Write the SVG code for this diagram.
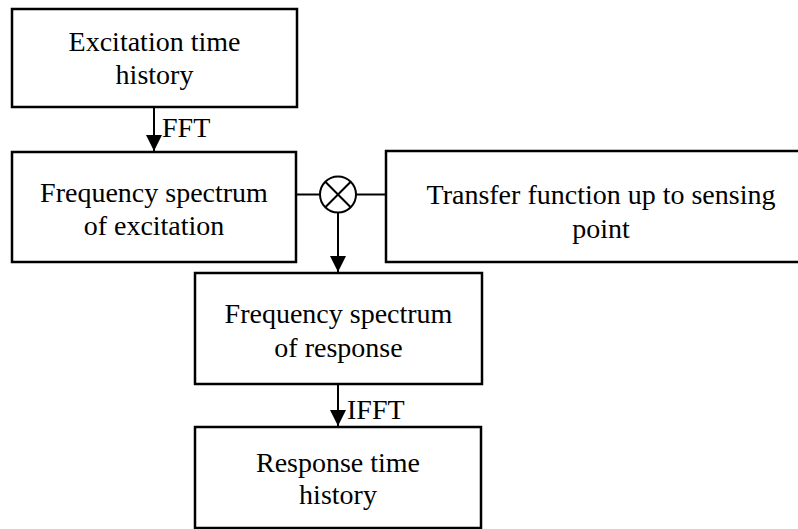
<svg xmlns="http://www.w3.org/2000/svg" width="798" height="529" viewBox="0 0 798 529">
<defs>
<marker id="ah" markerWidth="16" markerHeight="16" viewBox="0 0 16 16" refX="16" refY="8" orient="auto" markerUnits="userSpaceOnUse">
<path d="M0,0 L16,8 L0,16 Z" fill="#000"/>
</marker>
</defs>
<rect width="798" height="529" fill="#fff"/>
<g id="connectors" fill="none" stroke="#000" stroke-width="2">
<line x1="154" y1="107" x2="154" y2="151" marker-end="url(#ah)"/>
<line x1="296" y1="194.5" x2="320" y2="194.5"/>
<line x1="356" y1="194.5" x2="386" y2="194.5"/>
<line x1="338" y1="212.5" x2="338" y2="272" marker-end="url(#ah)"/>
<line x1="338" y1="384" x2="338" y2="426" marker-end="url(#ah)"/>
</g>
<g id="labels" fill="#000">
<text x="162" y="137" font-size="28" font-family="'Liberation Serif'" style="font-family:'Liberation Serif',serif">FFT</text>
<text x="347" y="419" font-size="28" font-family="'Liberation Serif'" style="font-family:'Liberation Serif',serif">IFFT</text>
</g>
<g id="mult" fill="none" stroke="#000" stroke-width="2">
<circle cx="338" cy="194.5" r="18" fill="#fff"/>
<line x1="325.3" y1="181.8" x2="350.7" y2="207.2"/>
<line x1="350.7" y1="181.8" x2="325.3" y2="207.2"/>
</g>
<g id="excitation-time">
<rect x="12" y="9" width="285" height="98" fill="#fff" stroke="#000" stroke-width="2.5"/>
<text x="154.5" y="51" font-size="28" text-anchor="middle" font-family="'Liberation Serif'" style="font-family:'Liberation Serif',serif">Excitation time</text>
<text x="154.5" y="84" font-size="28" text-anchor="middle" font-family="'Liberation Serif'" style="font-family:'Liberation Serif',serif">history</text>
</g>
<g id="spectrum-excitation">
<rect x="12" y="152" width="284" height="110" fill="#fff" stroke="#000" stroke-width="2.5"/>
<text x="154" y="202" font-size="28" text-anchor="middle" font-family="'Liberation Serif'" style="font-family:'Liberation Serif',serif">Frequency spectrum</text>
<text x="154" y="235" font-size="28" text-anchor="middle" font-family="'Liberation Serif'" style="font-family:'Liberation Serif',serif">of excitation</text>
</g>
<g id="transfer">
<rect x="386" y="151" width="430" height="111" fill="#fff" stroke="#000" stroke-width="2.5"/>
<text x="601" y="204" font-size="28" text-anchor="middle" font-family="'Liberation Serif'" style="font-family:'Liberation Serif',serif">Transfer function up to sensing</text>
<text x="601" y="238" font-size="28" text-anchor="middle" font-family="'Liberation Serif'" style="font-family:'Liberation Serif',serif">point</text>
</g>
<g id="spectrum-response">
<rect x="195" y="273" width="287" height="111" fill="#fff" stroke="#000" stroke-width="2.5"/>
<text x="338.5" y="323" font-size="28" text-anchor="middle" font-family="'Liberation Serif'" style="font-family:'Liberation Serif',serif">Frequency spectrum</text>
<text x="338.5" y="357" font-size="28" text-anchor="middle" font-family="'Liberation Serif'" style="font-family:'Liberation Serif',serif">of response</text>
</g>
<g id="response-time">
<rect x="195" y="427" width="286" height="101" fill="#fff" stroke="#000" stroke-width="2.5"/>
<text x="338" y="472" font-size="28" text-anchor="middle" font-family="'Liberation Serif'" style="font-family:'Liberation Serif',serif">Response time</text>
<text x="338" y="504" font-size="28" text-anchor="middle" font-family="'Liberation Serif'" style="font-family:'Liberation Serif',serif">history</text>
</g>
</svg>
